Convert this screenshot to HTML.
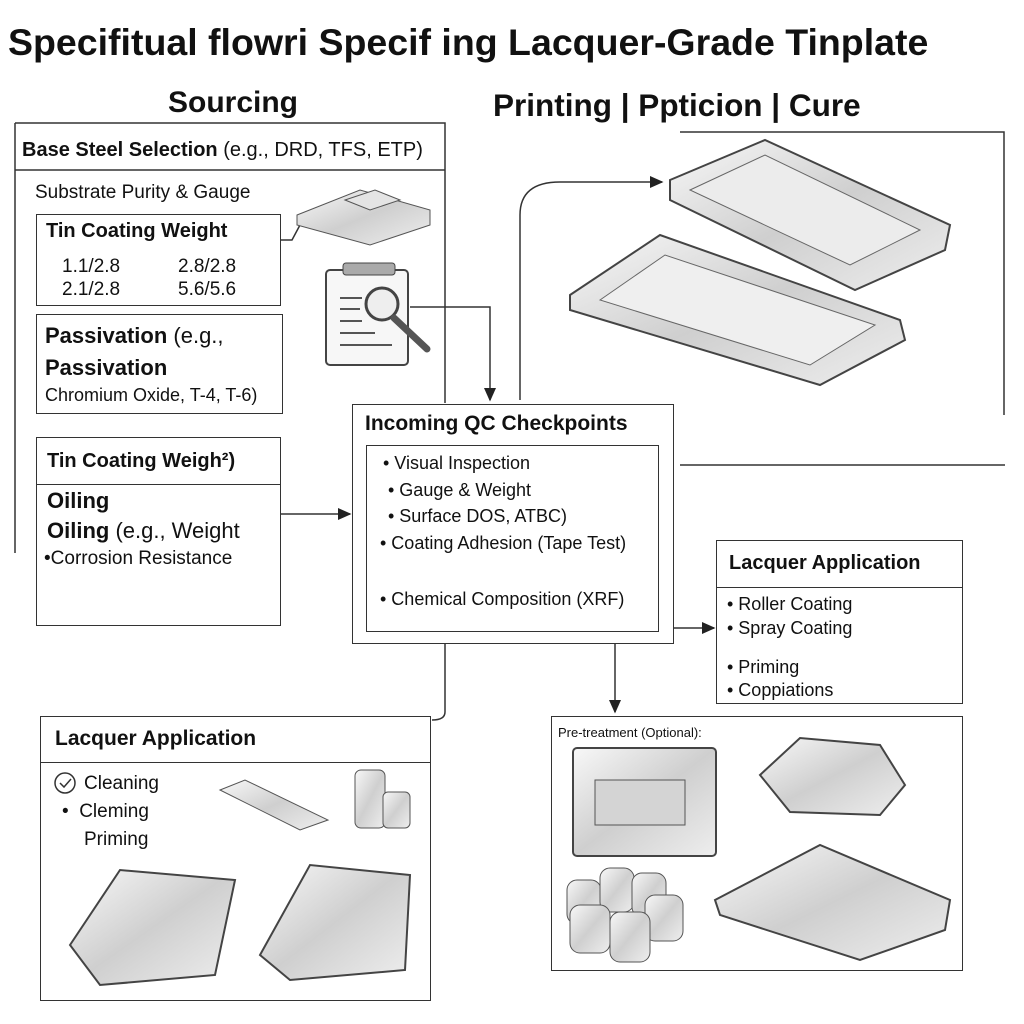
<!DOCTYPE html>
<html><head><meta charset="utf-8"><style>
body{margin:0;width:1024px;height:1024px;background:#fff;position:relative;overflow:hidden;font-family:"Liberation Sans",sans-serif;color:#111}
.t{position:absolute;white-space:nowrap}
.b{position:absolute;border:1.5px solid #333;box-sizing:border-box}
</style></head><body>
<svg width="1024" height="1024" style="position:absolute;left:0;top:0">
<defs>
<linearGradient id="m" x1="0" y1="0" x2="1" y2="1"><stop offset="0" stop-color="#f8f8f8"/><stop offset=".5" stop-color="#cfcfcf"/><stop offset="1" stop-color="#eeeeee"/></linearGradient>
<marker id="a" markerWidth="10" markerHeight="10" refX="8" refY="5" orient="auto"><path d="M0,1 L9,5 L0,9z" fill="#222"/></marker>
</defs>
<g fill="none" stroke="#333" stroke-width="1.5">
<path d="M15,123 H445 V403"/><path d="M15,123 V553"/><path d="M15,170 H445"/>
<path d="M680,132 H1004 V415"/><path d="M680,465 H1005"/>
<path d="M410,307 H490 V400" marker-end="url(#a)"/>
<path d="M520,400 V215 Q520,182 560,182 H662" marker-end="url(#a)"/>
<path d="M280,514 H350" marker-end="url(#a)"/>
<path d="M673,628 H714" marker-end="url(#a)"/>
<path d="M615,643 V712" marker-end="url(#a)"/>
<path d="M445,643 V712 Q445,720 432,720"/>
<path d="M280,240 H292 L300,225"/>
</g>
<path d="M297,215 L360,190 L430,210 L430,225 L370,245 L297,225z" fill="url(#m)" stroke="#555"/>
<path d="M345,200 L375,190 L400,200 L370,210z" fill="#e4e4e4" stroke="#555"/>
<rect x="326" y="270" width="82" height="95" rx="4" fill="#f7f7f7" stroke="#444" stroke-width="2"/>
<rect x="343" y="263" width="52" height="12" rx="3" fill="#aaa" stroke="#444"/>
<g stroke="#555" stroke-width="2"><path d="M340,298H362M340,309H360M340,321H362M340,333H375M340,345H392"/></g>
<circle cx="382" cy="304" r="16" fill="#eee" stroke="#444" stroke-width="3"/>
<path d="M394,318 L427,349" stroke="#555" stroke-width="7" stroke-linecap="round"/>
<path d="M670,180 L765,140 L950,225 L945,250 L855,290 L670,200z" fill="url(#m)" stroke="#444" stroke-width="2"/>
<path d="M690,190 L765,155 L920,230 L850,265z" fill="#ececec" stroke="#666"/>
<path d="M570,295 L660,235 L900,320 L905,340 L820,385 L570,310z" fill="url(#m)" stroke="#444" stroke-width="2"/>
<path d="M600,300 L665,255 L875,325 L810,365z" fill="#efefef" stroke="#666"/>
<path d="M220,790 L245,780 L328,820 L300,830z" fill="url(#m)" stroke="#555"/>
<rect x="355" y="770" width="30" height="58" rx="6" fill="url(#m)" stroke="#555"/>
<rect x="383" y="792" width="27" height="36" rx="5" fill="url(#m)" stroke="#555"/>
<path d="M70,945 L120,870 L235,880 L215,975 L100,985z" fill="url(#m)" stroke="#444" stroke-width="2"/>
<path d="M260,955 L310,865 L410,875 L405,970 L290,980z" fill="url(#m)" stroke="#444" stroke-width="2"/>
<rect x="573" y="748" width="143" height="108" rx="4" fill="url(#m)" stroke="#444" stroke-width="2"/>
<rect x="595" y="780" width="90" height="45" fill="#d4d4d4" stroke="#555"/>
<path d="M760,775 L800,738 L880,745 L905,785 L880,815 L790,812z" fill="url(#m)" stroke="#444" stroke-width="2"/>
<path d="M715,900 L820,845 L950,900 L945,930 L860,960 L720,915z" fill="url(#m)" stroke="#444" stroke-width="2"/>
<g fill="url(#m)" stroke="#555"><rect x="567" y="880" width="34" height="44" rx="10"/><rect x="600" y="868" width="34" height="44" rx="10"/><rect x="632" y="873" width="34" height="44" rx="10"/><rect x="645" y="895" width="38" height="46" rx="10"/><rect x="570" y="905" width="40" height="48" rx="10"/><rect x="610" y="912" width="40" height="50" rx="10"/></g>
<circle cx="65" cy="783" r="10" fill="none" stroke="#333" stroke-width="1.5"/><path d="M60,783 l4,4 l7,-8" fill="none" stroke="#333" stroke-width="1.5"/>
</svg>

<div class="t" style="left:8px;top:21px;font-size:37.5px;font-weight:bold">Specifitual flowri Specif ing Lacquer-Grade Tinplate</div>
<div class="t" style="left:168px;top:86px;font-size:30px;font-weight:bold">Sourcing</div>
<div class="t" style="left:493px;top:87px;font-size:31.5px;font-weight:bold">Printing | Ppticion | Cure</div>
<div class="t" style="left:22px;top:139px;font-size:20px"><b>Base Steel Selection</b> (e.g., DRD, TFS, ETP)</div>
<div class="t" style="left:35px;top:182px;font-size:19px">Substrate Purity &amp; Gauge</div>

<div class="b" style="left:36px;top:214px;width:245px;height:92px"></div>
<div class="t" style="left:46px;top:220px;font-size:20px;font-weight:bold">Tin Coating Weight</div>
<div class="t" style="left:62px;top:255px;font-size:19px;line-height:23px">1.1/2.8<br>2.1/2.8</div>
<div class="t" style="left:178px;top:255px;font-size:19px;line-height:23px">2.8/2.8<br>5.6/5.6</div>

<div class="b" style="left:36px;top:314px;width:247px;height:100px"></div>
<div class="t" style="left:45px;top:320px;font-size:22px;line-height:32px"><b>Passivation</b> (e.g.,<br><b>Passivation</b></div>
<div class="t" style="left:45px;top:385px;font-size:18px">Chromium Oxide, T-4, T-6)</div>

<div class="b" style="left:36px;top:437px;width:245px;height:189px"></div>
<div class="t" style="left:36px;top:484px;width:245px;border-top:1.5px solid #333"></div>
<div class="t" style="left:47px;top:450px;font-size:20px;font-weight:bold">Tin Coating Weigh²)</div>
<div class="t" style="left:47px;top:486px;font-size:22px;line-height:30px"><b>Oiling</b><br><b>Oiling</b> (e.g., Weight</div>
<div class="t" style="left:44px;top:548px;font-size:19px">•Corrosion Resistance</div>

<div class="b" style="left:352px;top:404px;width:322px;height:240px"></div>
<div class="b" style="left:366px;top:445px;width:293px;height:187px"></div>
<div class="t" style="left:365px;top:412px;font-size:21px;font-weight:bold">Incoming QC Checkpoints</div>
<div class="t" style="left:383px;top:453px;font-size:18px">• Visual Inspection</div>
<div class="t" style="left:388px;top:480px;font-size:18px">• Gauge &amp; Weight</div>
<div class="t" style="left:388px;top:506px;font-size:18px">• Surface DOS, ATBC)</div>
<div class="t" style="left:380px;top:533px;font-size:18px">• Coating Adhesion (Tape Test)</div>
<div class="t" style="left:380px;top:589px;font-size:18px">• Chemical Composition (XRF)</div>

<div class="b" style="left:716px;top:540px;width:247px;height:164px"></div>
<div class="t" style="left:716px;top:587px;width:247px;border-top:1.5px solid #333"></div>
<div class="t" style="left:729px;top:552px;font-size:20px;font-weight:bold">Lacquer Application</div>
<div class="t" style="left:727px;top:592px;font-size:18px;line-height:24px">• Roller Coating<br>• Spray Coating</div>
<div class="t" style="left:727px;top:656px;font-size:18px;line-height:23px">• Priming<br>• Coppiations</div>

<div class="b" style="left:40px;top:716px;width:391px;height:285px"></div>
<div class="t" style="left:40px;top:762px;width:391px;border-top:1.5px solid #333"></div>
<div class="t" style="left:55px;top:727px;font-size:21px;font-weight:bold">Lacquer Application</div>
<div class="t" style="left:84px;top:773px;font-size:19px">Cleaning</div>
<div class="t" style="left:62px;top:801px;font-size:19px">•&nbsp; Cleming</div>
<div class="t" style="left:84px;top:829px;font-size:19px">Priming</div>

<div class="b" style="left:551px;top:716px;width:412px;height:255px"></div>
<div class="t" style="left:558px;top:725px;font-size:13px">Pre-treatment (Optional):</div>
</body></html>
